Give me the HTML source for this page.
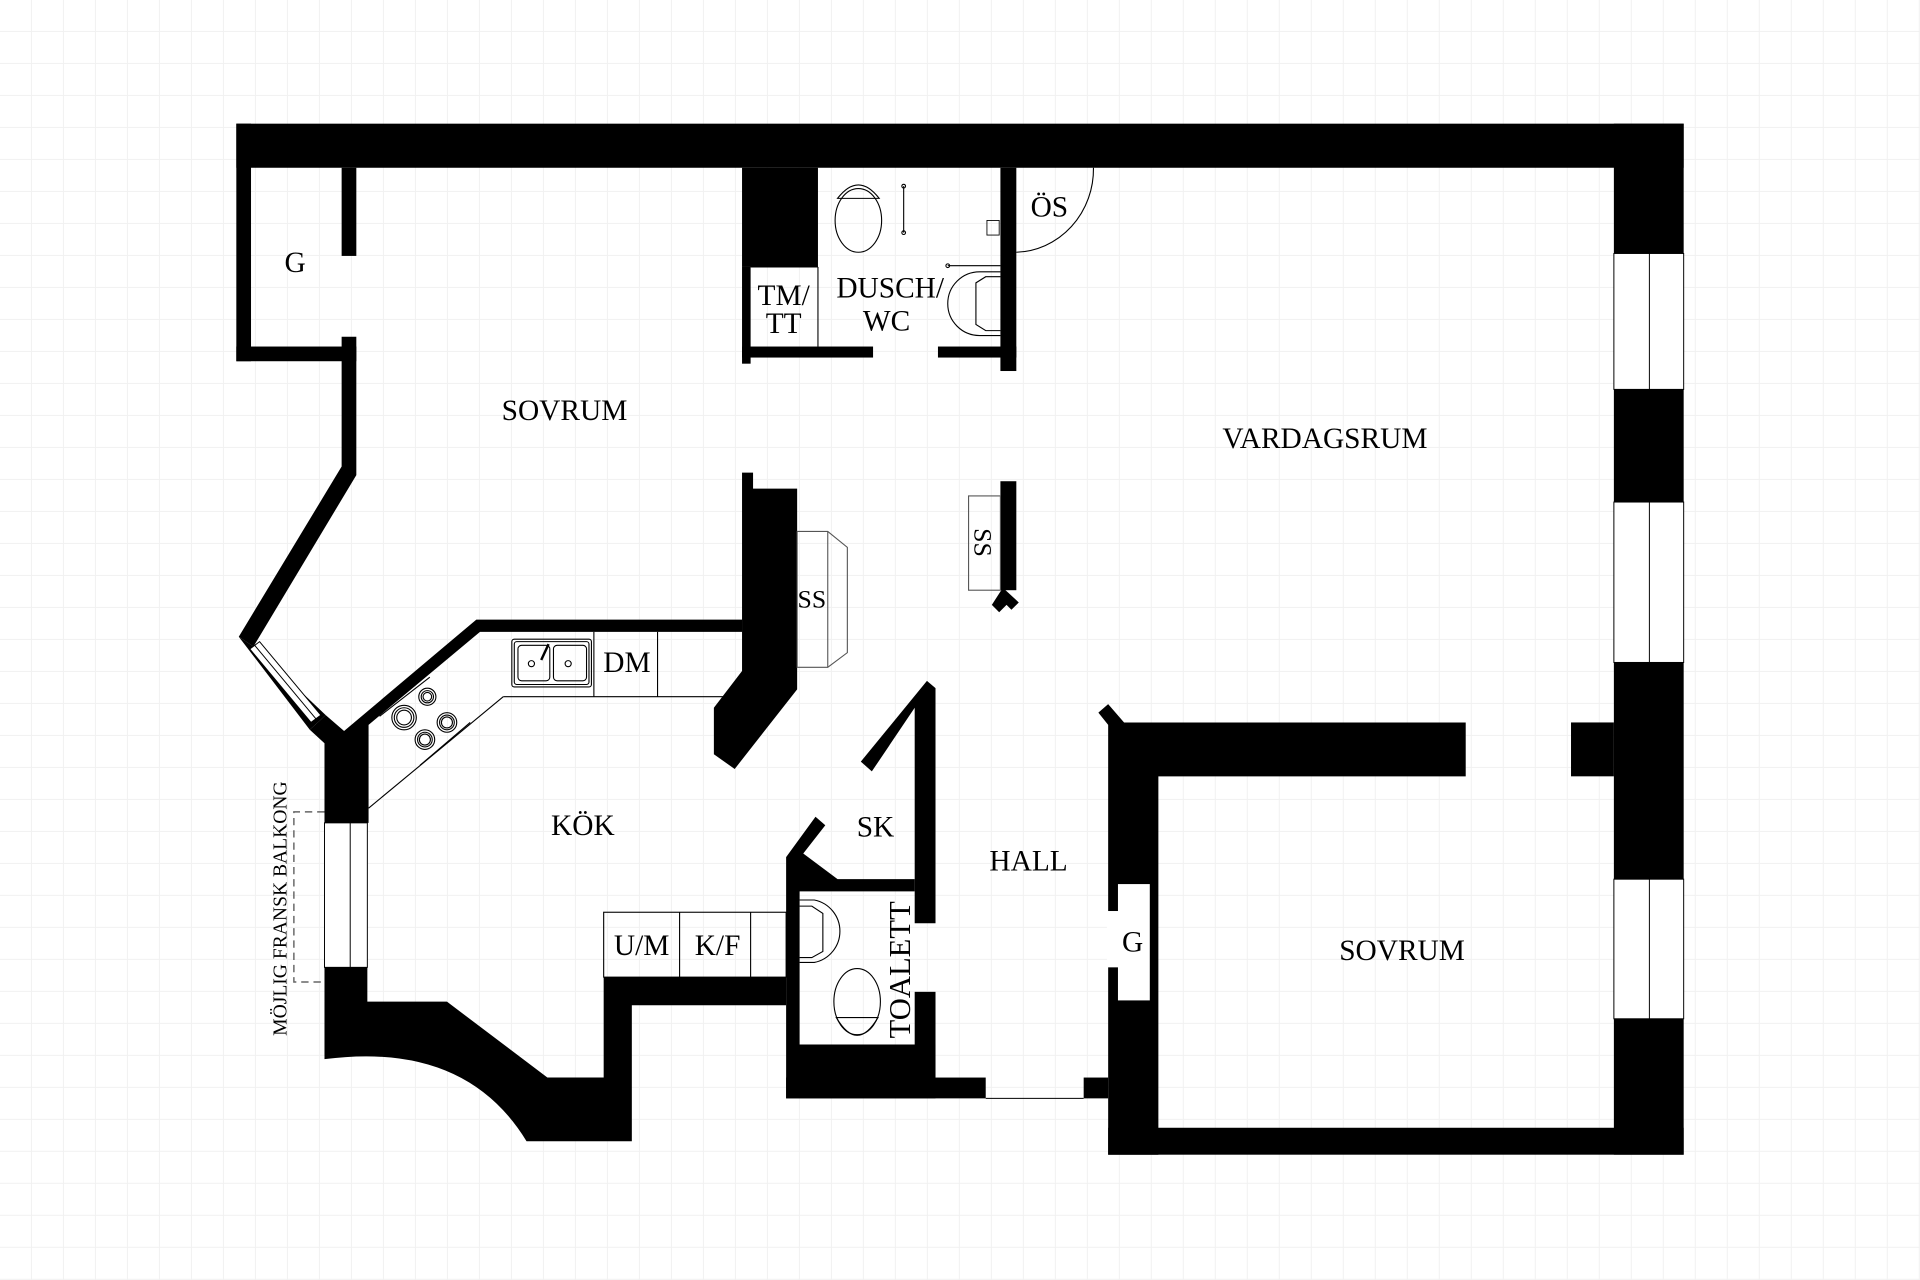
<!DOCTYPE html>
<html><head><meta charset="utf-8"><style>
html,body{margin:0;padding:0;background:#fff;}
svg{display:block}
text{font-family:"Liberation Serif",serif;fill:#000;}
</style></head><body>
<svg width="1920" height="1280" viewBox="0 0 1568 1045.33" xmlns="http://www.w3.org/2000/svg">
<defs>
<pattern id="g" patternUnits="userSpaceOnUse" x="25.3" y="25.3" width="26.13" height="26.13">
<path d="M0,0 H26.13 M0,0 V26.13" stroke="#f1f1f1" stroke-width="1.6" fill="none"/>
</pattern>
</defs>
<rect width="1568" height="1046" fill="url(#g)"/>
<g fill="#000">
<rect x="193" y="101" width="1182" height="36"/>
<rect x="1318" y="101" width="57" height="106"/>
<rect x="1318" y="318" width="57" height="92"/>
<rect x="1318" y="541" width="57" height="177"/>
<rect x="1318" y="832" width="57" height="111"/>
<rect x="905" y="921" width="470" height="22"/>
<rect x="193" y="101" width="12" height="194"/>
<rect x="193" y="283" width="98" height="12"/>
<rect x="279" y="137" width="12" height="72"/>
<polygon points="279,275 291,275 291,388 207,528 195,520 279,381"/>
<polygon points="389,506 606,506 606,516 392,516 301,592 301,672 265,672 265,607 253,596 266,584 281,597"/>
<polygon points="606,386 615,386 615,399 651,399 651,563 600,628 583,616 583,578 606,548"/>
<path d="M265,790 L300,790 L300,818 L365,818 L447,880 L493,880 L493,798 L642,798 L642,821 L516,821 L516,932 L430,932 Q380,850 265,865 Z"/>
<rect x="606" y="137" width="62" height="81"/>
<rect x="606" y="218" width="7" height="79"/>
<rect x="606" y="283" width="107" height="9"/>
<rect x="766" y="283" width="64" height="9"/>
<rect x="817" y="137" width="13" height="166"/>
<rect x="817" y="393" width="13" height="89"/>
<polygon points="819,480 832,492 826,498 822,494 816,500 810,494"/>
<polygon points="757,556 764,562 764,754 747,754 747,578 712,630 703,622"/>
<polygon points="642,700 666,667 674,674 656,697 684,718 747,718 747,728 653,728 653,853 642,853"/>
<rect x="747" y="810" width="17" height="70"/>
<rect x="642" y="853" width="122" height="44"/>
<rect x="642" y="880" width="163" height="17"/>
<rect x="885" y="880" width="20" height="17"/>
<polygon points="897,582 905,575 918,590 1197,590 1197,634 946,634 946,943 905,943 905,592"/>
<rect x="1283" y="590" width="35" height="44"/>
</g>
<rect x="913" y="722" width="26" height="95" fill="#fff"/>
<rect x="904" y="744" width="10" height="46" fill="#fff"/>
<g fill="#fff" stroke="#000" stroke-width="0.8">
<rect x="1318" y="207" width="57" height="111"/><line x1="1347" y1="207" x2="1347" y2="318"/>
<rect x="1318" y="410" width="57" height="131"/><line x1="1347" y1="410" x2="1347" y2="541"/>
<rect x="1318" y="718" width="57" height="114"/><line x1="1347" y1="718" x2="1347" y2="832"/>
<rect x="265" y="672" width="35" height="118"/><line x1="286" y1="672" x2="286" y2="790"/>
</g>
<polygon points="195,520 207,528 266,584 253,596" fill="#000"/>
<polygon points="204,530 212,524 262,584 254,590" fill="#fff" stroke="#000" stroke-width="0.8"/>
<line x1="208" y1="527" x2="258" y2="587" stroke="#000" stroke-width="0.8"/>
<path d="M265,663 H240 V802 H265" fill="none" stroke="#666" stroke-width="1.2" stroke-dasharray="6,4"/>
<g fill="none" stroke="#000" stroke-width="0.9">
<line x1="668" y1="218" x2="668" y2="283"/>
<line x1="613" y1="218" x2="668" y2="218"/>
<polyline points="411,569 606,569"/>
<line x1="411" y1="569" x2="301" y2="660"/>
<line x1="485" y1="516" x2="485" y2="569"/>
<line x1="537" y1="516" x2="537" y2="569"/>
<line x1="310" y1="585" x2="351" y2="553"/>
<line x1="343" y1="625" x2="384" y2="590"/>
<rect x="418" y="522" width="65" height="39" rx="2"/>
<rect x="420" y="524" width="61" height="35" rx="2"/>
<rect x="423" y="527" width="26" height="29" rx="3"/>
<rect x="452" y="527" width="27" height="29" rx="3"/>
<circle cx="434" cy="542" r="2.5"/><circle cx="464" cy="542" r="2.5"/>
<line x1="442" y1="539" x2="448" y2="526" stroke-width="2"/>
<circle cx="330" cy="586" r="10"/><circle cx="330" cy="586" r="8"/><circle cx="330" cy="586" r="6"/>
<circle cx="349" cy="569" r="7"/><circle cx="349" cy="569" r="5"/><circle cx="349" cy="569" r="3.5"/>
<circle cx="365" cy="590" r="8"/><circle cx="365" cy="590" r="6"/><circle cx="365" cy="590" r="4.5"/>
<circle cx="347" cy="604" r="8"/><circle cx="347" cy="604" r="6"/><circle cx="347" cy="604" r="4.5"/>
<rect x="493" y="745" width="149" height="53"/>
<line x1="555" y1="745" x2="555" y2="798"/>
<line x1="613" y1="745" x2="613" y2="798"/>
<polygon points="651,434 676,434 692,447 692,533 676,545 651,545" stroke="#555"/>
<line x1="676" y1="434" x2="676" y2="545" stroke="#555"/>
<rect x="791" y="405" width="26" height="77" stroke="#555"/>
<path d="M830,206 A65,68 0 0 0 893,137"/>
<ellipse cx="701" cy="180" rx="19" ry="26"/>
<path d="M684,162 Q701,140 718,162 Z"/>
<line x1="738" y1="152" x2="738" y2="190"/>
<circle cx="738" cy="152" r="1.5"/><circle cx="738" cy="190" r="1.5"/>
<line x1="774" y1="217" x2="817" y2="217"/>
<circle cx="774" cy="217" r="1.5"/>
<path d="M817,222 H800 A26,26 0 0 0 800,274 H817"/>
<path d="M817,226 H805 L797,231 V265 L805,270 H817"/>
<path d="M806,180 h10 v12 h-10z" stroke-width="0.7"/>
<path d="M653,735 H665 A26,26 0 0 1 665,786 H653"/>
<path d="M653,740 H663 L672,746 V777 L663,782 H653"/>
<ellipse cx="700" cy="818" rx="19" ry="27"/>
<path d="M683,831 Q700,860 717,831 Z"/>
<line x1="805" y1="897" x2="885" y2="897"/>
</g>
<g font-size="24" text-anchor="middle">
<text x="241" y="222">G</text>
<text x="461" y="343">SOVRUM</text>
<text x="640" y="249">TM/</text>
<text x="640" y="272">TT</text>
<text x="727" y="243">DUSCH/</text>
<text x="724" y="270">WC</text>
<text x="857" y="177">ÖS</text>
<text x="1082" y="366">VARDAGSRUM</text>
<text x="663" y="496" font-size="21">SS</text>
<text x="0" y="0" font-size="21" transform="translate(796,443) rotate(90)">SS</text>
<text x="512" y="549">DM</text>
<text x="476" y="682">KÖK</text>
<text x="715" y="683">SK</text>
<text x="840" y="711">HALL</text>
<text x="0" y="0" transform="translate(743,792) rotate(-90)" font-size="25">TOALETT</text>
<text x="925" y="777">G</text>
<text x="1145" y="784">SOVRUM</text>
<text x="524" y="780">U/M</text>
<text x="586" y="780">K/F</text>
<text x="0" y="0" font-size="16" transform="translate(234,742) rotate(-90)">MÖJLIG FRANSK BALKONG</text>
</g>
</svg>
</body></html>
